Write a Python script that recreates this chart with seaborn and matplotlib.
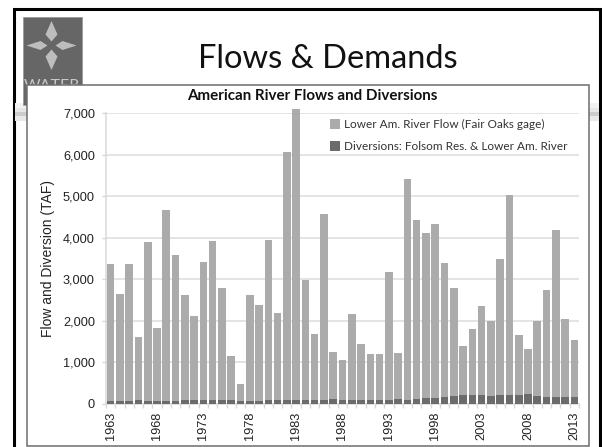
import matplotlib
matplotlib.use("Agg")
import matplotlib.pyplot as plt
from matplotlib.patches import Polygon, Rectangle
import numpy as np
import pandas as pd
import seaborn as sns

years = list(range(1963, 2014))
river_flow = [3370, 2640, 3360, 1600, 3900, 1820, 4660, 3590, 2630, 2110,
              3420, 3930, 2780, 1160, 470, 2610, 2390, 3950, 2190, 6060,
              7100, 2990, 1670, 4570, 1240, 1050, 2150, 1440, 1190, 1190,
              3170, 1210, 5420, 4430, 4120, 4340, 3380, 2780, 1400, 1810,
              2360, 1990, 3490, 5030, 1660, 1320, 1990, 2750, 4190, 2050, 1540]
diversions = [70, 70, 70, 85, 70, 70, 70, 75, 80, 80,
              85, 85, 90, 90, 60, 70, 75, 80, 90, 85,
              85, 95, 95, 100, 105, 100, 90, 95, 85, 95,
              95, 115, 100, 115, 130, 135, 170, 190, 200, 200,
              205, 195, 200, 205, 205, 230, 175, 165, 170, 165, 170]
tick_years = list(range(1963, 2014, 5))
y_ticks = [0, 1000, 2000, 3000, 4000, 5000, 6000, 7000]
flow_label = "Lower Am. River Flow (Fair Oaks gage)"
diversion_label = "Diversions: Folsom Res. & Lower Am. River"

W, H = 602, 447
HUMANIST = ["Lato", "DejaVu Sans"]
sns.set_theme(style="white")
plt.rcParams["font.family"] = ["Liberation Sans", "DejaVu Sans"]

fig = plt.figure(figsize=(W / 100, H / 100), dpi=100, facecolor="white")

def box(x0, y0, x1, y1):
    """Figure-fraction rectangle from pixel edges, y counted from the top."""
    return [x0 / W, 1 - y1 / H, (x1 - x0) / W, (y1 - y0) / H]

# Slide background: frame, logo, title and the band behind the chart
slide = fig.add_axes([0, 0, 1, 1], zorder=0)
slide.set_xlim(0, W)
slide.set_ylim(H, 0)
slide.axis("off")
slide.add_patch(Rectangle((14, 8.5), 586, 445, fc="white", ec="black", lw=2.2))
for top, shade in [(103, "#f2f2f2"), (108, "#e6e6e6"), (112, "#cccccc"), (116, "#e8e8e8")]:
    slide.add_patch(Rectangle((15, top), 584, 5, fc=shade, ec="none"))
slide.add_patch(Rectangle((22.5, 16.5), 59, 88, fc="#666666", ec="#9a9a9a", lw=0.6))
cx, cy = 51.5, 45.5
petals = [(0, -1, 24.5, 6), (0, 1, 24.5, 6), (-1, 0, 25, 4.5), (1, 0, 25, 4.5)]
for dx, dy, reach, half in petals:
    px, py = -dy, dx
    petal = [(cx + dx * 4, cy + dy * 4),
             (cx + dx * 11 + px * half, cy + dy * 11 + py * half),
             (cx + dx * reach, cy + dy * reach),
             (cx + dx * 11 - px * half, cy + dy * 11 - py * half)]
    slide.add_patch(Polygon(petal, closed=True, fc="#bdbdbd", ec="none"))
slide.text(51.5, 86, "WATER", color="#c8c8c8", fontsize=11.5, ha="center", va="center",
           family=HUMANIST)
slide.text(328, 59, "Flows & Demands", color="#111111", fontsize=23.5, ha="center",
           va="center", family=HUMANIST)
slide.add_patch(Rectangle((26.5, 84.5), 562, 361, fc="white", ec="#6e6e6e", lw=1.1, zorder=5))

# Chart panel
ax = fig.add_axes(box(106, 113.2, 579, 403.7), zorder=2)
ax.patch.set_alpha(0)
data = pd.DataFrame({"year": years, "flow": river_flow, "diversion": diversions})
sns.barplot(data=data, x="year", y="flow", color="#ababab", saturation=1, linewidth=0,
            width=0.82, ax=ax, label=flow_label, zorder=3)
sns.barplot(data=data, x="year", y="diversion", color="#6b6b6b", saturation=1, linewidth=0,
            width=0.82, ax=ax, label=diversion_label, zorder=4)
for patch in ax.patches:
    patch.set_clip_on(False)

ax.set_xlim(-0.5, len(years) - 0.5)
ax.set_ylim(0, 7000)
ax.set_yticks(y_ticks, [f"{v:,}" for v in y_ticks])
ax.set_xticks([y - years[0] for y in tick_years], [str(y) for y in tick_years], rotation=90)
ax.set_xticks(np.arange(len(years) + 1) - 0.5, minor=True)
ax.yaxis.grid(True, color="#dcdcdc", lw=1.1, zorder=0)
ax.set_axisbelow(True)
for side in ["top", "right"]:
    ax.spines[side].set_visible(False)
for side in ["left", "bottom"]:
    ax.spines[side].set_color("#d8d8d8")
    ax.spines[side].set_linewidth(1.1)
ax.tick_params(axis="y", length=3, width=1, color="#d8d8d8", labelsize=9.2,
               labelcolor="#222222", pad=5, left=True)
ax.tick_params(axis="x", which="major", length=0, labelsize=9.2, labelcolor="#222222", pad=6)
ax.tick_params(axis="x", which="minor", length=3, width=1, color="#d8d8d8", bottom=True)
ax.set_xlabel("")
ax.set_ylabel("Flow and Diversion (TAF)", fontsize=10, color="#222222", labelpad=6)

fig.text(312 / W, 1 - 96.5 / H, "American River Flows and Diversions", fontsize=10.9,
         fontweight="bold", color="#111111", ha="center", va="center",
         family=HUMANIST, zorder=6)

handles, labels = ax.get_legend_handles_labels()
leg = ax.legend(handles, labels, loc="upper left", bbox_to_anchor=(224 / 473, 0.98),
                frameon=False, handlelength=0.85, handleheight=0.85,
                handletextpad=0.3, labelspacing=0.95, borderpad=0, borderaxespad=0,
                prop={"family": HUMANIST, "size": 8.5})
for text in leg.get_texts():
    text.set_color("#333333")

fig.savefig("out.png", dpi=100)
